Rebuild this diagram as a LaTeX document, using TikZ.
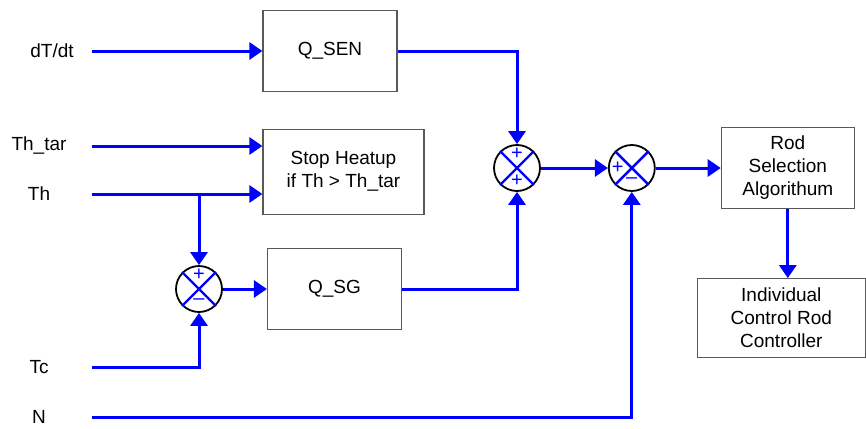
\documentclass[tikz,border=0pt]{standalone}
\usepackage{fontspec}
\setmainfont{Liberation Sans}
\usetikzlibrary{positioning,arrows.meta}

\begin{document}
\begin{tikzpicture}[
  x=0.5pt, y=-0.5pt,
  font=\fontsize{9.5}{11.5}\selectfont,
  bloco/.style={rectangle, draw=black!65, line width=0.6pt, fill=white,
                align=center, inner sep=0pt},
  somador/.style={circle, draw=black, line width=0.9pt, minimum size=23pt, inner sep=0pt},
  sinal/.style={text=blue, font=\fontsize{10}{10}\selectfont, inner sep=0pt},
  seta/.style={-{Triangle[length=6.5pt, width=8.5pt]}, line width=1.5pt, draw=blue},
  linha/.style={line width=1.5pt, draw=blue},
  rotulo/.style={text width=53pt, align=center, inner sep=0pt}
]
\useasboundingbox (0,0) rectangle (866,428);

% ---------------- Entradas ----------------
\node[rotulo, text width=40pt] (dtdt) at (52,51) {dT/dt};
\node[rotulo] (thtar) at (39,146) {Th\_tar};
\node[rotulo] (th) at (39,194) {Th};
\node[rotulo] (tc) at (39,367) {Tc};
\node[rotulo] (n) at (39,417) {N};

% ---------------- Blocos ----------------
\node[bloco, minimum width=67pt, minimum height=40.5pt] (qsen) at (330,51) {Q\_SEN};
\node[bloco, minimum width=80.5pt, minimum height=42.5pt,
      below=18.25pt of qsen.south west, anchor=north west] (parada)
  {Stop Heatup\\if Th > Th\_tar};
\node[somador] (s1) at (199,289) {};
\node[bloco, minimum width=67pt, minimum height=40.5pt, right=22pt of s1] (qsg) {Q\_SG};
\node[somador] (s2) at (517,168) {};
\node[somador, right=33.5pt of s2] (s3) {};
\node[bloco, minimum width=66.5pt, minimum height=40.5pt, right=32.5pt of s3] (rod)
  {Rod\\Selection\\Algorithum};
\node[bloco, minimum width=84pt, minimum height=39.5pt,
      below=34.5pt of rod, xshift=-3.25pt] (icrc)
  {Individual\\Control Rod\\Controller};

% ---------------- Somadores ----------------
\foreach \s in {s1,s2,s3}
  \draw[linha, line width=1.2pt] (\s.45) -- (\s.225) (\s.135) -- (\s.-45);
\node[sinal] (s1mais) at ([yshift=7pt]s1.center) {+};
\node[sinal] (s1menos) at ([yshift=-6.5pt]s1.center) {--};
\node[sinal] (s2mais) at ([yshift=7pt]s2.center) {+};
\node[sinal] (s2maisb) at ([yshift=-6.5pt]s2.center) {+};
\node[sinal] (s3mais) at ([xshift=-7pt]s3.center) {+};
\node[sinal] (s3menos) at ([yshift=-6.5pt]s3.center) {--};

% ---------------- Setas ----------------
\draw[seta] (dtdt.east) -- (qsen.west);
\draw[seta] (thtar.east) -- (parada.west |- thtar.east);
\draw[seta] (th.east) -- (parada.west |- th.east);
\draw[seta] (th.east -| s1) -- (s1.north);
\draw[seta] (tc.east) -| (s1.south);
\draw[seta] (s1.east) -- (qsg.west);
\draw[seta] (qsen.east) -| (s2.north);
\draw[seta] (qsg.east) -| (s2.south);
\draw[seta] (s2.east) -- (s3.west);
\draw[seta] (n.east) -| (s3.south);
\draw[seta] (s3.east) -- (rod.west);
\draw[seta] (rod.south) -- (rod.south |- icrc.north);

\end{tikzpicture}
\end{document}
